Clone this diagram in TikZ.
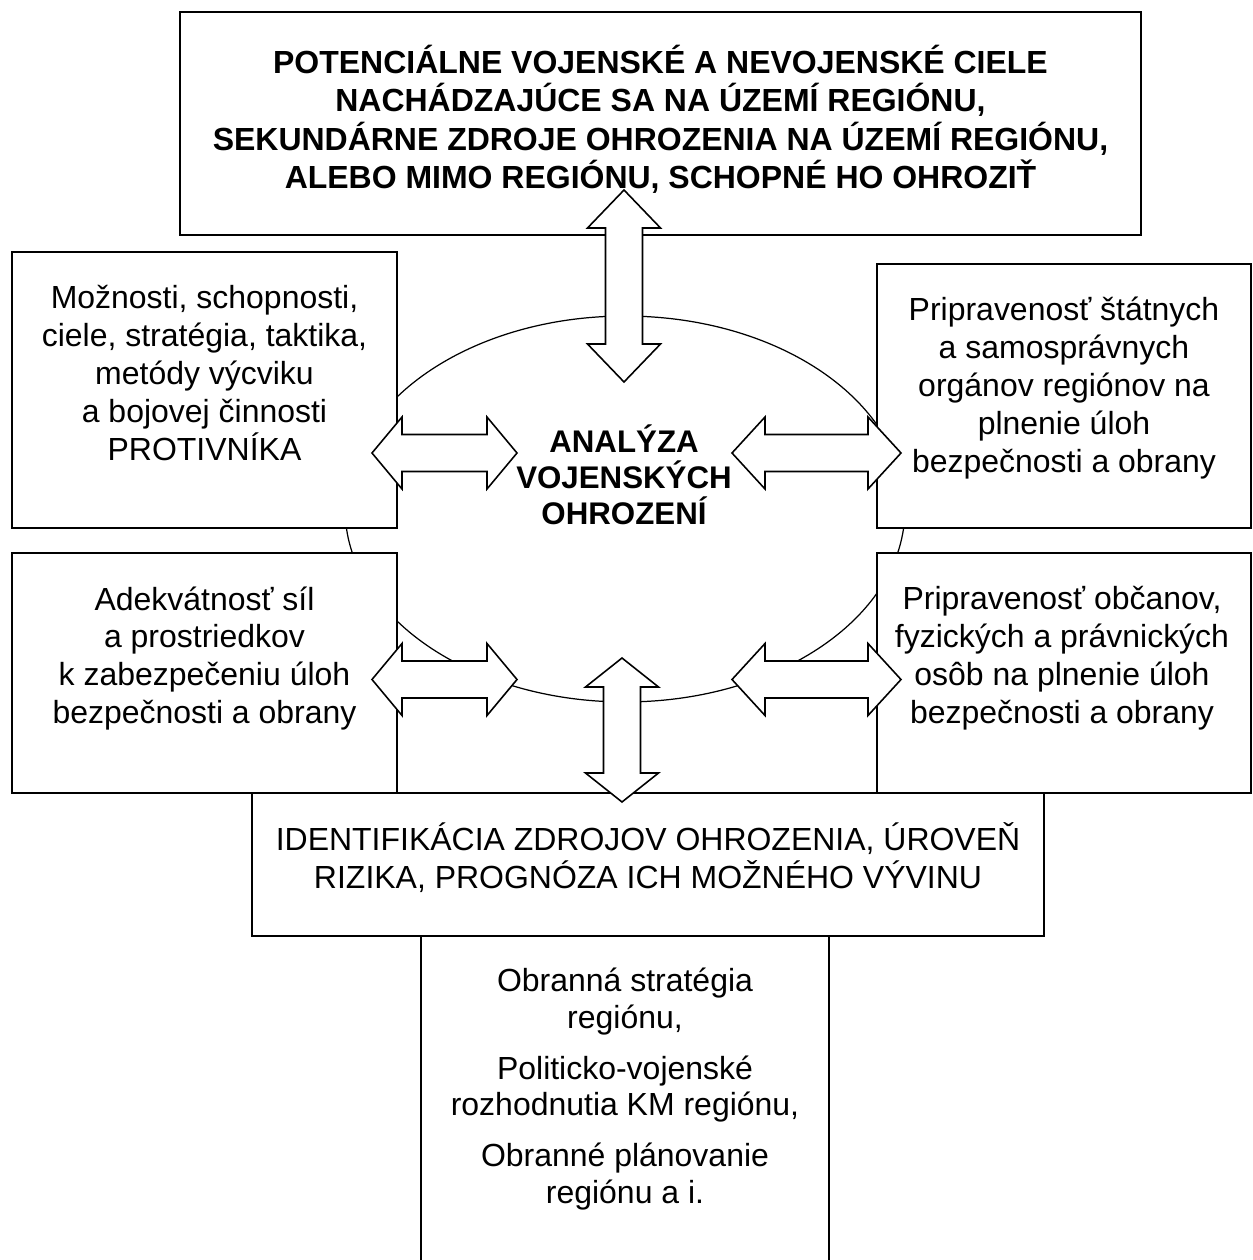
\documentclass[tikz,border=0pt]{standalone}
\usepackage{fontspec}
\setmainfont{Liberation Sans}
\usetikzlibrary{shapes.geometric}
\begin{document}
% Double-headed block arrows (horizontal / vertical), drawn as filled outlines
% #1,#2 = end points along the axis, #3 = position across, #4 = head length
\newcommand{\dblarrowH}[4]{%
  \filldraw[blockarrow] (#1,#3) -- ({#1+#4},{#3-36}) -- ({#1+#4},{#3-18.5})
    -- ({#2-#4},{#3-18.5}) -- ({#2-#4},{#3-36}) -- (#2,#3)
    -- ({#2-#4},{#3+36}) -- ({#2-#4},{#3+18.5}) -- ({#1+#4},{#3+18.5})
    -- ({#1+#4},{#3+36}) -- cycle;}
\newcommand{\dblarrowV}[4]{%
  \filldraw[blockarrow] (#3,#1) -- ({#3+36.5},{#1+#4}) -- ({#3+18.5},{#1+#4})
    -- ({#3+18.5},{#2-#4}) -- ({#3+36.5},{#2-#4}) -- (#3,#2)
    -- ({#3-36.5},{#2-#4}) -- ({#3-18.5},{#2-#4}) -- ({#3-18.5},{#1+#4})
    -- ({#3-36.5},{#1+#4}) -- cycle;}
\begin{tikzpicture}[x=0.02cm, y=-0.02cm,
  frame/.style={draw, line width=1.1pt, fill=white, inner sep=0pt},
  blockarrow/.style={draw, line width=0.9pt, fill=white, line join=miter},
  txt/.style={align=center, inner sep=0pt,
    font=\fontsize{18.2}{21.6}\selectfont},
  btxt/.style={txt, font=\fontsize{18.2}{21.9}\selectfont\bfseries}]
\useasboundingbox[fill=white] (0,0) rectangle (1252,1260);

% central ellipse
\node[draw, ellipse, line width=0.7pt, inner sep=0pt,
      minimum width=11.2cm, minimum height=7.72cm] (core) at (625,509) {};

% boxes
\node[frame, minimum width=19.22cm, minimum height=4.46cm] (top) at (660.5,123.5) {};
\node[frame, minimum width=7.70cm, minimum height=5.52cm] (lu) at (204.5,390) {};
\node[frame, minimum width=7.70cm, minimum height=4.80cm] (ll) at (204.5,673) {};
\node[frame, minimum width=7.48cm, minimum height=5.28cm] (ru) at (1064,396) {};
\node[frame, minimum width=7.48cm, minimum height=4.80cm] (rl) at (1064,673) {};
\node[frame, minimum width=8.16cm, minimum height=6.56cm] (out) at (625,1100) {};
\node[frame, minimum width=15.84cm, minimum height=2.86cm] (ident) at (648,864.5) {};

% texts
\node[btxt] (ttop) at (660.5,119.5) {POTENCIÁLNE VOJENSKÉ A NEVOJENSKÉ CIELE\\
  NACHÁDZAJÚCE SA NA ÚZEMÍ REGIÓNU,\\
  SEKUNDÁRNE ZDROJE OHROZENIA NA ÚZEMÍ REGIÓNU,\\
  ALEBO MIMO REGIÓNU, SCHOPNÉ HO OHROZIŤ};
\node[txt] (tlu) at (204.5,373) {Možnosti, schopnosti,\\ ciele, stratégia, taktika,\\
  metódy výcviku\\ a bojovej činnosti\\ PROTIVNÍKA};
\node[txt] (tru) at (1064,388) {Pripravenosť štátnych\\ a samosprávnych\\
  orgánov regiónov na\\ plnenie úloh\\ bezpečnosti a obrany};
\node[txt] (tll) at (204.5,658.5) {Adekvátnosť síl\\ a prostriedkov\\
  k zabezpečeniu úloh\\ bezpečnosti a obrany};
\node[txt] (trl) at (1062,658.5) {Pripravenosť občanov,\\ fyzických a právnických\\
  osôb na plnenie úloh\\ bezpečnosti a obrany};
\node[txt, font=\fontsize{17.8}{20.6}\selectfont\bfseries] (tcore) at (624,475)
  {ANALÝZA\\ VOJENSKÝCH\\ OHROZENÍ};
\node[txt] (tident) at (648,858) {IDENTIFIKÁCIA ZDROJOV OHROZENIA, ÚROVEŇ\\
  RIZIKA, PROGNÓZA ICH MOŽNÉHO VÝVINU};
\node[txt, font=\fontsize{18.2}{20.9}\selectfont] (tout) at (625,1089)
  {Obranná stratégia\\ regiónu,\\[8pt]
   Politicko-vojenské\\ rozhodnutia KM regiónu,\\[8pt]
   Obranné plánovanie\\ regiónu a i.};

% block arrows between the analysis and its inputs / outputs
\dblarrowV{190}{382}{624}{38}
\dblarrowH{372}{517}{453}{30}
\dblarrowH{732}{901}{453}{33}
\dblarrowH{372}{517}{679.5}{30}
\dblarrowH{732}{901}{679.5}{33}
\dblarrowV{658}{802}{622}{29}
\end{tikzpicture}
\end{document}
